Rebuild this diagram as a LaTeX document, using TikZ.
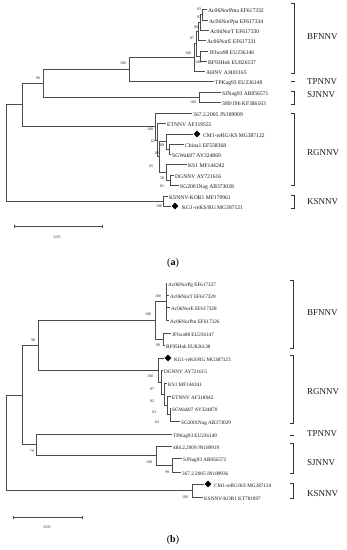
\documentclass[tikz,border=0pt]{standalone}
\usepackage{fontspec}
\setmainfont{Liberation Serif}
\usetikzlibrary{shapes.geometric}
\begin{document}
\begin{tikzpicture}[x=1pt,y=-1pt,
  br/.style={draw=black!70, line width=0.55pt},
  brk/.style={draw=black!80, line width=0.6pt},
  leafa/.style={anchor=west, inner xsep=1.5pt, inner ysep=0pt, xshift=-1.5pt,
    font=\fontsize{5.6pt}{6pt}\selectfont, text height=0.7em, text depth=0.05em, text=black!90},
  leafb/.style={leafa, font=\fontsize{5.2pt}{6pt}\selectfont},
  dia/.style={diamond, fill=black, inner sep=0pt, minimum size=7pt},
  bs/.style={inner sep=0pt, font=\fontsize{4pt}{4.5pt}\selectfont, text=black!85},
  clade/.style={anchor=west, inner sep=0pt, font=\fontsize{9pt}{10pt}\selectfont, text=black!90},
  panel/.style={inner sep=0pt, font=\fontsize{10pt}{11pt}\selectfont}
]
\fill[white] (0,0) rectangle (347,550);
\useasboundingbox (0,0) rectangle (347,550);

% ================= tree (a) =================
\coordinate (aR) at (6,152.9);
\coordinate (aA) at (22,104.75);
\coordinate (aB) at (43,83);
\coordinate (aC) at (129,69);
\coordinate (aD) at (194,57.4);
\coordinate (a4) at (196,43.75);
\coordinate (a3) at (198,31.5);
\coordinate (a2) at (200,22.4);
\coordinate (a1) at (202,14.75);
\coordinate (ajb) at (200,56);
\coordinate (aSJ) at (199,97);
\coordinate (aRG) at (155,126.4);
\coordinate (a62) at (157,139.9);
\coordinate (a65) at (159,156.75);
\coordinate (a89) at (166,141.5);
\coordinate (a82) at (169,149);
\coordinate (a58) at (166,172);
\coordinate (a81) at (170,180);
\coordinate (aKS) at (163,201);

\node[leafa] (apma) at (208,9.5) {Ac06NorPma EF617332};
\node[leafa] (appa) at (209,20) {Ac06NorPpa EF617334};
\node[leafa] (at) at (210,30) {Ac06NorT EF617330};
\node[leafa] (ae) at (207,40.7) {Ac06NorE EF617331};
\node[leafa] (ajf) at (209,51) {JFIwa98 EU236146};
\node[leafa] (abf) at (208,61) {BF93Hok EU826137};
\node[leafa] (aah) at (206,71) {AHNV AJ401165};
\node[leafa] (atp) at (215,81) {TPKag93 EU236148};
\node[leafa] (asj) at (222,92) {SJNag93 AB056571};
\node[leafa] (a389) at (222,102) {389/196 KF386163};
\node[leafa] (a367) at (193,113) {367.2.2005 JN189909};
\node[leafa] (aet) at (167,123) {ETNNV AF319555};
\node[dia] (acm1d) at (197,134) {};
\node[leafa] (acm1) at (203,134) {CM1-reRG/KS MG387122};
\node[leafa] (ach) at (185,144) {China1 EF558368};
\node[leafa] (asg) at (172,154) {SGWak97 AY324869};
\node[leafa] (aks1) at (188,164) {KS1 MF144242};
\node[leafa] (adg) at (175,175) {DGNNV AY721616};
\node[leafa] (asg2) at (180,185) {SG2001Nag AB373028};
\node[leafa] (akor) at (169,196) {KSNNV-KOR1 MF170961};
\node[dia] (akg1d) at (175,206) {};
\node[leafa] (akg1) at (182,206) {KG1-reKS/RG MG387121};

\draw[br] (aR) |- (aA);   \draw[br] (aR) |- (aKS);
\draw[br] (aA) |- (aB);   \draw[br] (aA) |- (aRG);
\draw[br] (aB) |- (aC);   \draw[br] (aB) |- (aSJ);
\draw[br] (aC) |- (aD);   \draw[br] (aC) |- (atp.west);
\draw[br] (aD) |- (a4);   \draw[br] (aD) |- (aah.west);
\draw[br] (a4) |- (a3);   \draw[br] (a4) |- (ajb);
\draw[br] (a3) |- (a2);   \draw[br] (a3) |- (ae.west);
\draw[br] (a2) |- (a1);   \draw[br] (a2) |- (at.west);
\draw[br] (a1) |- (apma.west); \draw[br] (a1) |- (appa.west);
\draw[br] (ajb) |- (ajf.west); \draw[br] (ajb) |- (abf.west);
\draw[br] (aSJ) |- (asj.west); \draw[br] (aSJ) |- (a389.west);
\draw[br] (aRG) |- (a367.west); \draw[br] (aRG) |- (a62);
\draw[br] (a62) |- (aet.west); \draw[br] (a62) |- (a65);
\draw[br] (a65) |- (a89); \draw[br] (a65) |- (a58);
\draw[br] (a89) |- (acm1d.west); \draw[br] (a89) |- (a82);
\draw[br] (a82) |- (ach.west); \draw[br] (a82) |- (asg.west);
\draw[br] (a58) |- (aks1.west); \draw[br] (a58) |- (a81);
\draw[br] (a81) |- (adg.west); \draw[br] (a81) |- (asg2.west);
\draw[br] (aKS) |- (akor.west); \draw[br] (aKS) |- (akg1d.west);

\node[bs] (ab1) at (199,9) {93};
\node[bs] (ab2) at (199,17) {93};
\node[bs] (ab3) at (196,27) {90};
\node[bs] (ab4) at (192,38) {87};
\node[bs] (ab5) at (188,53) {100};
\node[bs] (ab6) at (198,62.5) {100};
\node[bs] (ab7) at (123,63) {100};
\node[bs] (ab8) at (38,78) {96};
\node[bs] (ab9) at (193,102) {100};
\node[bs] (ab10) at (150,129) {100};
\node[bs] (ab11) at (153,141) {62};
\node[bs] (ab12) at (162,145) {89};
\node[bs] (ab13) at (157,153) {82};
\node[bs] (ab14) at (151,166) {65};
\node[bs] (ab15) at (162,178) {58};
\node[bs] (ab16) at (162,186) {81};
\node[bs] (ab17) at (159,206) {100};

% clade brackets (a)
\draw[brk] (291,3) -- (294,3) -- (294,73) -- (291,73);
\draw[brk] (291,81) -- (295,81);
\draw[brk] (291,91) -- (294,91) -- (294,104) -- (291,104);
\draw[brk] (291,113) -- (294,113) -- (294,185) -- (291,185);
\draw[brk] (291,195) -- (294,195) -- (294,208) -- (291,208);
\node[clade] (acbf) at (307,37) {BFNNV};
\node[clade] (actp) at (307,82) {TPNNV};
\node[clade] (acsj) at (307,95) {SJNNV};
\node[clade] (acrg) at (307,153) {RGNNV};
\node[clade] (acks) at (307,202) {KSNNV};

% scale bar (a)
\coordinate (asb1) at (14,226);
\coordinate (asb2) at (102,226);
\draw[br] (asb1) -- (asb2);
\draw[br] ([yshift=1.5pt]asb1) -- ([yshift=-1.5pt]asb1);
\draw[br] ([yshift=1.5pt]asb2) -- ([yshift=-1.5pt]asb2);
\node[bs] (asbl) at (57,237) {0.05};
\node[panel] (pa) at (173,263) {(\textbf{a})};

% ================= tree (b) =================
\coordinate (bR) at (6,442.7);
\coordinate (bA) at (22,394.9);
\coordinate (bB) at (38,345.1);
\coordinate (bBF) at (155,320.25);
\coordinate (bac) at (166,301.5);
\coordinate (bjb) at (163,339);
\coordinate (bRG) at (158,370);
\coordinate (b87) at (161,382);
\coordinate (b82) at (164,394);
\coordinate (b63) at (167,405);
\coordinate (b62) at (170,414.5);
\coordinate (bT) at (36,444.75);
\coordinate (bSJ) at (156,455.5);
\coordinate (bsj2) at (172,465);
\coordinate (bKS) at (192,490.5);

\node[leafb] (bpg) at (168,283) {Ac06NorPg EF617327};
\node[leafb] (bt) at (170,295) {Ac06NorT EF617329};
\node[leafb] (be) at (171,307) {Ac06NorE EF617328};
\node[leafb] (bpm) at (170,320) {Ac06NorPm EF617326};
\node[leafb] (bjf) at (172,333) {JFIwa98 EU236147};
\node[leafb] (bbf) at (166,345) {BF95Hok EU826138};
\node[dia] (bkg1d) at (168,358) {};
\node[leafb] (bkg1) at (174,358) {KG1-reKS/RG MG387123};
\node[leafb] (bdg) at (164,370) {DGNNV AY721615};
\node[leafb] (bks1) at (168,383) {KS1 MF144241};
\node[leafb] (bet) at (172,396) {ETNNV AF318942};
\node[leafb] (bsg) at (172,408) {SGWak97 AY324870};
\node[leafb] (bsg2) at (181,421) {SG2001Nag AB373029};
\node[leafb] (btp) at (173,434) {TPKag93 EU236149};
\node[leafb] (b484) at (173,446) {484.2.2009 JN189919};
\node[leafb] (bsj) at (183,458) {SJNag93 AB056572};
\node[leafb] (b367) at (182,472) {367.2.2005 JN189936};
\node[dia] (bcm1d) at (208,484) {};
\node[leafb] (bcm1) at (214,484) {CM1-reRG/KS MG387124};
\node[leafb] (bkor) at (204,497) {KSNNV-KOR1 KT781097};

\draw[br] (bR) |- (bA);   \draw[br] (bR) |- (bKS);
\draw[br] (bA) |- (bB);   \draw[br] (bA) |- (bT);
\draw[br] (bB) |- (bBF);  \draw[br] (bB) |- (bRG);
\draw[br] (bBF) |- (bac); \draw[br] (bBF) |- (bjb);
\draw[br] (bac) |- (bpg.west); \draw[br] (bac) |- (bt.west);
\draw[br] (bac) |- (be.west);  \draw[br] (bac) |- (bpm.west);
\draw[br] (bjb) |- (bjf.west); \draw[br] (bjb) |- (bbf.west);
\draw[br] (bRG) |- (bkg1d.west); \draw[br] (bRG) |- (b87);
\draw[br] (b87) |- (bdg.west); \draw[br] (b87) |- (b82);
\draw[br] (b82) |- (bks1.west); \draw[br] (b82) |- (b63);
\draw[br] (b63) |- (bet.west); \draw[br] (b63) |- (b62);
\draw[br] (b62) |- (bsg.west); \draw[br] (b62) |- (bsg2.west);
\draw[br] (bT) |- (btp.west); \draw[br] (bT) |- (bSJ);
\draw[br] (bSJ) |- (b484.west); \draw[br] (bSJ) |- (bsj2);
\draw[br] (bsj2) |- (bsj.west); \draw[br] (bsj2) |- (b367.west);
\draw[br] (bKS) |- (bcm1d.west); \draw[br] (bKS) |- (bkor.west);

\node[bs] (bb1) at (158,296) {100};
\node[bs] (bb2) at (148,314) {100};
\node[bs] (bb3) at (158,345) {98};
\node[bs] (bb4) at (33,340) {98};
\node[bs] (bb5) at (150,376) {100};
\node[bs] (bb6) at (152,389) {87};
\node[bs] (bb7) at (152,401) {82};
\node[bs] (bb8) at (154,412) {63};
\node[bs] (bb9) at (157,422) {62};
\node[bs] (bb10) at (32,451) {79};
\node[bs] (bb11) at (149,462) {100};
\node[bs] (bb12) at (167,472) {99};
\node[bs] (bb13) at (185,497) {100};

% clade brackets (b)
\draw[brk] (290,280) -- (293,280) -- (293,348) -- (290,348);
\draw[brk] (290,355) -- (293,355) -- (293,423) -- (290,423);
\draw[brk] (290,435) -- (294,435);
\draw[brk] (290,443) -- (293,443) -- (293,473) -- (290,473);
\draw[brk] (290,483) -- (293,483) -- (293,498) -- (290,498);
\node[clade] (bcbf) at (307,313) {BFNNV};
\node[clade] (bcrg) at (307,392) {RGNNV};
\node[clade] (bctp) at (307,434) {TPNNV};
\node[clade] (bcsj) at (307,463) {SJNNV};
\node[clade] (bcks) at (307,494) {KSNNV};

% scale bar (b)
\coordinate (bsb1) at (13,517);
\coordinate (bsb2) at (82,517);
\draw[br] (bsb1) -- (bsb2);
\draw[br] ([yshift=1.5pt]bsb1) -- ([yshift=-1.5pt]bsb1);
\draw[br] ([yshift=1.5pt]bsb2) -- ([yshift=-1.5pt]bsb2);
\node[bs] (bsbl) at (47,527) {0.05};
\node[panel] (pb) at (173,540) {(\textbf{b})};
\end{tikzpicture}
\end{document}
